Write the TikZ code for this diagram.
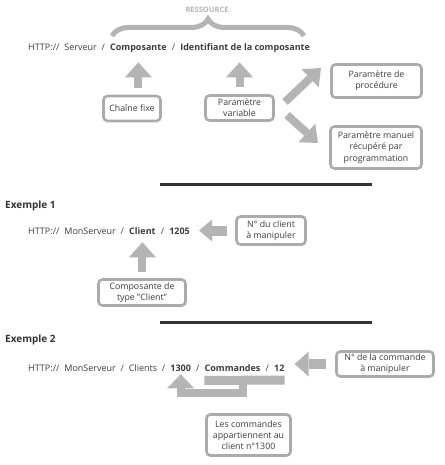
\documentclass[tikz,border=0pt]{standalone}
\usepackage{fontspec}
\setmainfont{Open Sans}
\usetikzlibrary{arrows.meta,positioning,decorations.pathreplacing}

\definecolor{texte}{HTML}{3C3C3C}
\definecolor{fleche}{HTML}{B4B4B4}
\definecolor{cadre}{HTML}{ABABAB}
\definecolor{trait}{HTML}{333333}

% separateurs dans les adresses
\newcommand{\barre}{\hspace*{4.8pt}/\hspace*{4.8pt}}
\newcommand{\apres}{\hspace*{5pt}}

\tikzset{
  url/.style={inner sep=0pt, anchor=base west, text=texte, font=\fontsize{9}{11}\selectfont},
  gras/.style={url, font=\fontsize{9}{11}\selectfont\bfseries},
  boite/.style={draw=cadre, line width=2.6pt, rounded corners=4pt, align=center,
    text=texte, font=\fontsize{8.8}{11.2}\selectfont, inner sep=1pt},
  grosse/.style={draw=fleche, line width=8pt,
    -{Triangle[width=27pt,length=15pt,line width=0pt]}},
  separateur/.style={draw=trait, line width=3pt},
  titre/.style={anchor=west, inner sep=0pt, text=trait, font=\fontsize{10}{12}\selectfont\bfseries},
}

\begin{document}
\begin{tikzpicture}[x=1pt,y=-1pt]
  \useasboundingbox (0,0) rectangle (444,465);

  % ---- Schema general ----
  \node[inner sep=0pt, text=fleche, font=\fontsize{7.5}{9}\selectfont\bfseries] (ress) at (207,10) {RESSOURCE};
  \draw[draw=fleche, line width=5pt, decorate,
    decoration={brace, amplitude=17pt, aspect=0.5}] (112,36) -- (304,36);

  % Adresse generique
  \node[url] (http) at (28,51) {HTTP://\apres Serveur\barre};
  \node[gras] (compo) at (http.base east) {Composante};
  \node[url] (sl1) at (compo.base east) {\barre};
  \node[gras] (ident) at (sl1.base east) {Identifiant de la composante};

  % Boites
  \node[boite, minimum width=57pt, minimum height=25pt] (fixe) at (132,108.5) {Chaîne fixe};
  \node[boite, minimum width=68pt, minimum height=25pt] (variable) at (239.5,108) {Paramètre\\variable};
  \node[boite, minimum width=90pt, minimum height=33pt] (procedure) at (376.5,81) {Paramètre de\\procédure};
  \node[boite, minimum width=91pt, minimum height=42pt] (manuel) at (376,147.5) {Paramètre manuel\\récupéré par\\programmation};

  % Fleches
  \coordinate (pcompo) at ([yshift=-9pt]compo.south);
  \coordinate (pident) at (variable.north |- pcompo);
  \draw[grosse] ([yshift=7pt]pcompo |- fixe.north) -- (pcompo);
  \draw[grosse] ([yshift=7pt]variable.north) -- (pident);
  \coordinate (dep1) at (285,102);
  \coordinate (dep2) at (287,115);
  \draw[grosse, -{Triangle[width=25pt,length=15pt,line width=0pt]}] (dep1) -- (321,68);
  \draw[grosse, -{Triangle[width=25pt,length=15pt,line width=0pt]}] (dep2) -- (318,143);

  \draw[separateur] (160,184) -- (372,184);

  % ---- Exemple 1 ----
  \node[titre] (ex1) at (5,206) {Exemple 1};
  \node[url] (http1) at (28,234) {HTTP://\apres MonServeur\barre};
  \node[gras] (client) at (http1.base east) {Client};
  \node[url] (sl2) at (client.base east) {\barre};
  \node[gras] (num1) at (sl2.base east) {1205};

  \node[boite, minimum width=69pt, minimum height=28pt] (noclient) at (271,230.5) {N° du client\\à manipuler};
  \node[boite, minimum width=87pt, minimum height=26pt] (typeclient) at (142,292.5) {Composante de\\type "Client"};

  \draw[grosse, line width=10pt, -{Triangle[width=22pt,length=13pt,line width=0pt]}]
    ([xshift=-8pt]noclient.west) -- ([xshift=9pt]num1.east |- noclient.west);
  \coordinate (pclient) at ([yshift=-8pt]client.south);
  \draw[grosse] ([yshift=6pt]pclient |- typeclient.north) -- (pclient);

  \draw[separateur] (160,322) -- (372,322);

  % ---- Exemple 2 ----
  \node[titre] (ex2) at (5,340) {Exemple 2};
  \node[url] (http2) at (28,371) {HTTP://\apres MonServeur\barre Clients\barre};
  \node[gras] (num2) at (http2.base east) {1300};
  \node[url] (sl3) at (num2.base east) {\barre};
  \node[gras] (cmd) at (sl3.base east) {Commandes};
  \node[url] (sl4) at (cmd.base east) {\barre};
  \node[gras] (num3) at (sl4.base east) {12};

  \node[boite, minimum width=97pt, minimum height=25pt] (nocmd) at (385,364) {N° de la commande\\à manipuler};
  \node[boite, minimum width=84pt, minimum height=41pt] (appart) at (248.5,435) {Les commandes\\appartiennent au\\client n°1300};

  \draw[grosse, line width=10pt, -{Triangle[width=25pt,length=14pt,line width=0pt]}]
    ([xshift=-9pt]nocmd.west) -- ([xshift=10pt]num3.east |- nocmd.west);

  % Fleche en L vers 1300
  \coordinate (barg) at ([yshift=-9pt]cmd.south west);
  \coordinate (bard) at ([yshift=-9pt]num3.south east);
  \coordinate (coude) at ([xshift=-6pt]barg -| appart.north);
  \coordinate (bas) at ([yshift=-13pt]coude);
  \coordinate (p1300) at ([yshift=-3pt]num2.south);
  \draw[draw=fleche, line width=9pt] (barg) -- (bard);
  \draw[draw=fleche, line width=8pt, line join=miter]
    (coude) -- (bas) -- (bas -| p1300) -- ([yshift=-10pt]p1300);
  \fill[fleche] (p1300) -- ++(13.5,14) -- ++(-27,0) -- cycle;
\end{tikzpicture}
\end{document}
